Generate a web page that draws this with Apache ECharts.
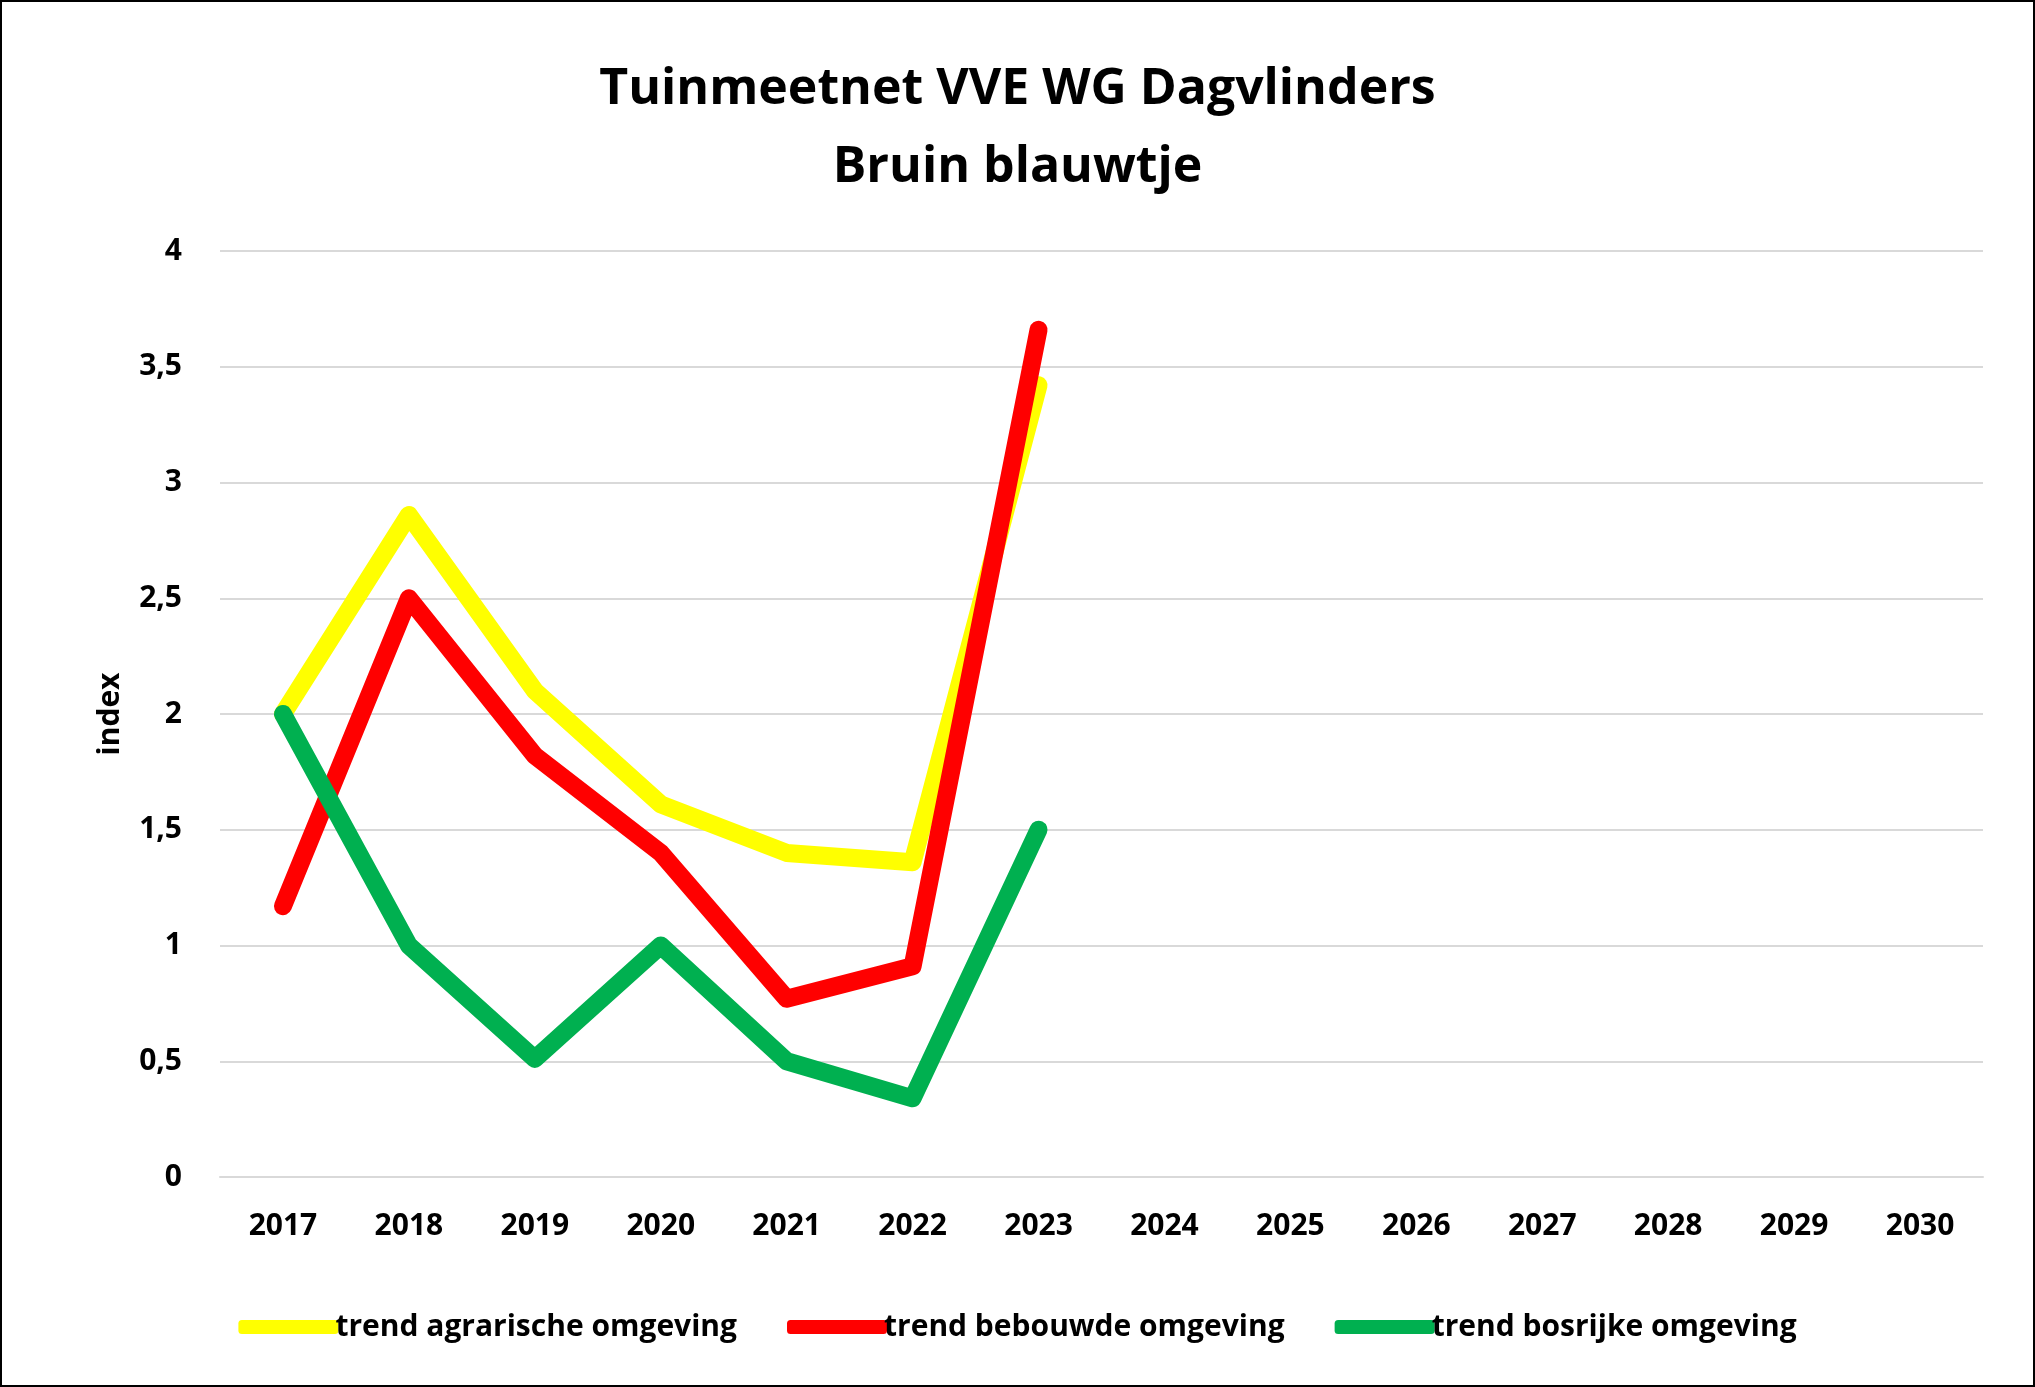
<!DOCTYPE html>
<html><head><meta charset="utf-8">
<script src="https://cdn.jsdelivr.net/npm/echarts@6/dist/echarts.min.js"></script>
<style>html,body{margin:0;padding:0;background:#fff}#c{width:2031px;height:1383px;border:2px solid #000}</style>
</head><body><div id="c"></div>
<script>
const years = ['2017','2018','2019','2020','2021','2022','2023','2024','2025','2026','2027','2028','2029','2030'];
const agrarisch = [2.0, 2.86, 2.10, 1.61, 1.40, 1.36, 3.42, null, null, null, null, null, null, null];
const bebouwd = [1.17, 2.50, 1.82, 1.40, 0.77, 0.91, 3.66, null, null, null, null, null, null, null];
const bosrijk = [2.0, 1.0, 0.51, 1.0, 0.50, 0.34, 1.50, null, null, null, null, null, null, null];
const F = '"Open Sans", sans-serif';
const mk = (name, data, color) => ({name, type:'line', data, symbol:'none', smooth:false,
  lineStyle:{width:18, color, cap:'round', join:'round'}, itemStyle:{color}});
const chart = echarts.init(document.getElementById('c'));
chart.setOption({
  animation:false,
  title:{text:'Tuinmeetnet VVE WG Dagvlinders\nBruin blauwtje', left:'center', top:44,
    textStyle:{fontFamily:F, fontSize:50, fontWeight:'bold', color:'#000', lineHeight:78}},
  grid:{left:218, right:50, top:249, bottom:208},
  xAxis:{type:'category', data:years, boundaryGap:true,
    axisLine:{show:true, lineStyle:{color:'#d9d9d9', width:2}}, axisTick:{show:false},
    axisLabel:{fontFamily:F, fontSize:30, fontWeight:'bold', color:'#000', margin:34}},
  yAxis:{type:'value', min:0, max:4, interval:0.5, name:'index', nameLocation:'middle', nameGap:95,
    nameTextStyle:{fontFamily:F, fontSize:30, fontWeight:'bold', color:'#000'},
    axisLine:{show:false}, axisTick:{show:false},
    splitLine:{lineStyle:{color:'#d9d9d9', width:2}},
    axisLabel:{fontFamily:F, fontSize:30, fontWeight:'bold', color:'#000', margin:38,
      formatter:v=>String(v).replace('.',',')}},
  legend:{bottom:38, left:'center', itemWidth:100, itemHeight:14, itemGap:50, icon:'roundRect',
    textStyle:{fontFamily:F, fontSize:30, fontWeight:'bold', color:'#000', padding:[0,0,0,-8]}},
  series:[mk('trend agrarische omgeving', agrarisch, '#ffff00'),
          mk('trend bebouwde omgeving', bebouwd, '#ff0000'),
          mk('trend bosrijke omgeving', bosrijk, '#00b050')]
});
</script></body></html>
